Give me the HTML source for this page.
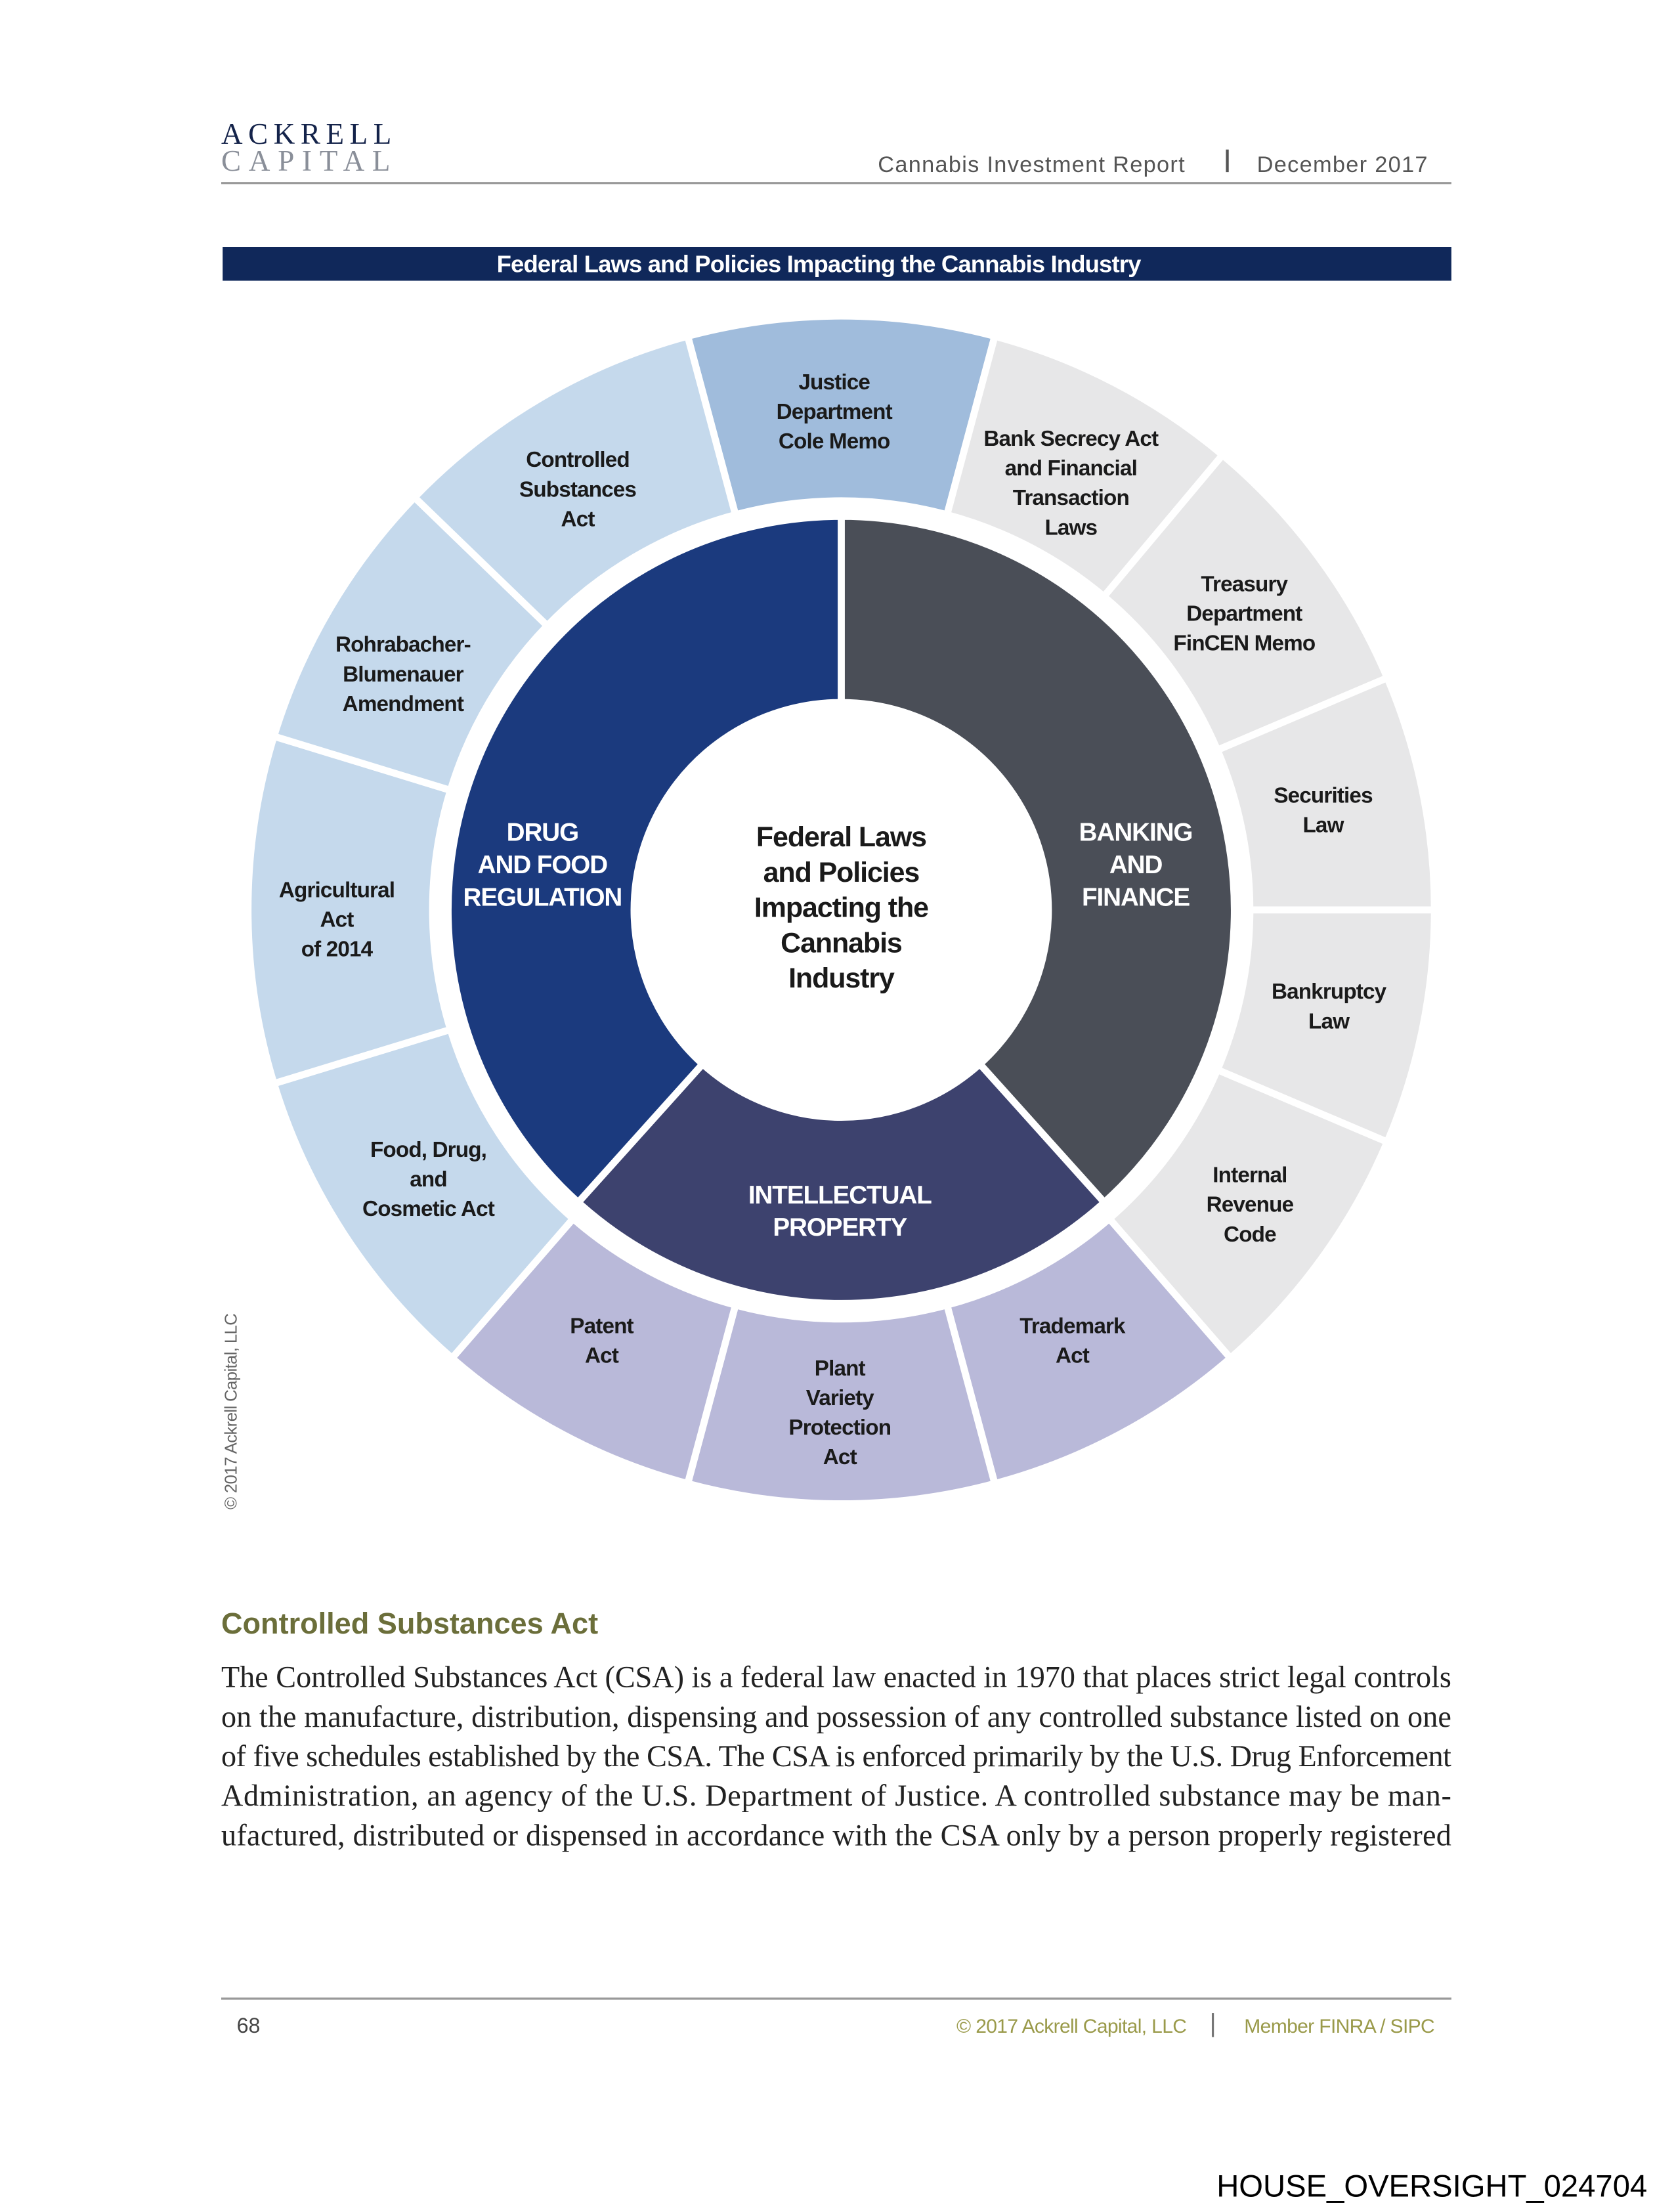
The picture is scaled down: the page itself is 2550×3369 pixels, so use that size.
<!DOCTYPE html>
<html><head><meta charset="utf-8">
<style>
html,body{margin:0;padding:0;background:#fff;}
svg{display:block;}
.lb{font-family:"Liberation Sans Narrow","Liberation Sans",sans-serif;font-weight:bold;font-size:15.5px;letter-spacing:-0.4px;fill:#1a1a1a;text-anchor:middle;}
.wl{font-family:"Liberation Sans Narrow","Liberation Sans",sans-serif;font-weight:bold;font-size:18px;letter-spacing:-0.5px;fill:#fff;text-anchor:middle;}
.body{font-family:"Liberation Serif",serif;font-size:21.5px;fill:#222;}
</style></head>
<body>
<svg id="s" width="2550" height="3369" viewBox="0 0 1188 1568" preserveAspectRatio="none" xmlns="http://www.w3.org/2000/svg">
<rect width="1188" height="1568" fill="#fff"/>
<text x="157" y="102" font-family="Liberation Serif,serif" font-size="21" fill="#14234a" letter-spacing="4">ACKRELL</text>
<text x="157" y="121" font-family="Liberation Serif,serif" font-size="21" fill="#8a8f99" letter-spacing="5.5">CAPITAL</text>
<text x="623" y="122" font-family="Liberation Sans,sans-serif" font-size="16" fill="#555" letter-spacing="0.6">Cannabis Investment Report</text>
<rect x="870" y="106" width="2" height="16" fill="#555"/>
<text x="892" y="122" font-family="Liberation Sans,sans-serif" font-size="16" fill="#555" letter-spacing="0.6">December 2017</text>
<rect x="157" y="129" width="873" height="1.5" fill="#999"/>
<rect x="158" y="175" width="872" height="24" fill="#10285a"/>
<text x="581" y="193" text-anchor="middle" font-family="Liberation Sans Narrow,Liberation Sans,sans-serif" font-weight="bold" font-size="17" letter-spacing="-0.4" fill="#fff">Federal Laws and Policies Impacting the Cannabis Industry</text>
<g id="wheel"></g>
<circle cx="597" cy="645" r="147" fill="#fff"/>
<text class="lb" style="font-size:20px;letter-spacing:-0.5px"><tspan x="597" y="600">Federal Laws</tspan><tspan x="597" y="625">and Policies</tspan><tspan x="597" y="650">Impacting the</tspan><tspan x="597" y="675">Cannabis</tspan><tspan x="597" y="700">Industry</tspan></text>
<text class="wl"><tspan x="385" y="596">DRUG</tspan><tspan x="385" y="619">AND FOOD</tspan><tspan x="385" y="642">REGULATION</tspan></text>
<text class="wl"><tspan x="806" y="596">BANKING</tspan><tspan x="806" y="619">AND</tspan><tspan x="806" y="642">FINANCE</tspan></text>
<text class="wl"><tspan x="596" y="853">INTELLECTUAL</tspan><tspan x="596" y="876">PROPERTY</tspan></text>
<text class="lb"><tspan x="592" y="276">Justice</tspan><tspan x="592" y="297">Department</tspan><tspan x="592" y="318">Cole Memo</tspan></text>
<text class="lb"><tspan x="760" y="316">Bank Secrecy Act</tspan><tspan x="760" y="337">and Financial</tspan><tspan x="760" y="358">Transaction</tspan><tspan x="760" y="379">Laws</tspan></text>
<text class="lb"><tspan x="883" y="419">Treasury</tspan><tspan x="883" y="440">Department</tspan><tspan x="883" y="461">FinCEN Memo</tspan></text>
<text class="lb"><tspan x="939" y="569">Securities</tspan><tspan x="939" y="590">Law</tspan></text>
<text class="lb"><tspan x="943" y="708">Bankruptcy</tspan><tspan x="943" y="729">Law</tspan></text>
<text class="lb"><tspan x="887" y="838">Internal</tspan><tspan x="887" y="859">Revenue</tspan><tspan x="887" y="880">Code</tspan></text>
<text class="lb"><tspan x="761" y="945">Trademark</tspan><tspan x="761" y="966">Act</tspan></text>
<text class="lb"><tspan x="596" y="975">Plant</tspan><tspan x="596" y="996">Variety</tspan><tspan x="596" y="1017">Protection</tspan><tspan x="596" y="1038">Act</tspan></text>
<text class="lb"><tspan x="427" y="945">Patent</tspan><tspan x="427" y="966">Act</tspan></text>
<text class="lb"><tspan x="304" y="820">Food, Drug,</tspan><tspan x="304" y="841">and</tspan><tspan x="304" y="862">Cosmetic Act</tspan></text>
<text class="lb"><tspan x="239" y="636">Agricultural</tspan><tspan x="239" y="657">Act</tspan><tspan x="239" y="678">of 2014</tspan></text>
<text class="lb"><tspan x="286" y="462">Rohrabacher-</tspan><tspan x="286" y="483">Blumenauer</tspan><tspan x="286" y="504">Amendment</tspan></text>
<text class="lb"><tspan x="410" y="331">Controlled</tspan><tspan x="410" y="352">Substances</tspan><tspan x="410" y="373">Act</tspan></text>
<text transform="translate(168,1070) rotate(-90)" font-family="Liberation Sans Narrow,Liberation Sans,sans-serif" font-size="12" fill="#666" letter-spacing="-0.3">© 2017 Ackrell Capital, LLC</text>
<text x="157" y="1158" font-family="Liberation Sans,sans-serif" font-weight="bold" font-size="21" fill="#6b6e3a">Controlled Substances Act</text>
<text class="body" x="157" y="1196" textLength="873" lengthAdjust="spacing">The Controlled Substances Act (CSA) is a federal law enacted in 1970 that places strict legal controls</text>
<text class="body" x="157" y="1224" textLength="873" lengthAdjust="spacing">on the manufacture, distribution, dispensing and possession of any controlled substance listed on one</text>
<text class="body" x="157" y="1252" textLength="873" lengthAdjust="spacing">of five schedules established by the CSA. The CSA is enforced primarily by the U.S. Drug Enforcement</text>
<text class="body" x="157" y="1280" textLength="873" lengthAdjust="spacing">Administration, an agency of the U.S. Department of Justice. A controlled substance may be man-</text>
<text class="body" x="157" y="1308" textLength="873" lengthAdjust="spacing">ufactured, distributed or dispensed in accordance with the CSA only by a person properly registered</text>
<rect x="157" y="1416" width="873" height="1.5" fill="#999"/>
<text x="168" y="1441" font-family="Liberation Sans,sans-serif" font-size="15" fill="#444">68</text>
<text x="842" y="1441" text-anchor="end" font-family="Liberation Sans,sans-serif" font-size="14" letter-spacing="-0.3" fill="#9a9a4a">© 2017 Ackrell Capital, LLC</text>
<rect x="860" y="1427" width="1.5" height="17" fill="#777"/>
<text x="1018" y="1441" text-anchor="end" font-family="Liberation Sans,sans-serif" font-size="14" letter-spacing="-0.3" fill="#9a9a4a">Member FINRA / SIPC</text>
<text x="1169" y="1557" text-anchor="end" font-family="Liberation Sans,sans-serif" font-size="22" fill="#000">HOUSE_OVERSIGHT_024704</text>
</svg>
<script>
(function(){
var cx=597,cy=645,g=document.getElementById('wheel'),ns='http://www.w3.org/2000/svg';
function pt(r,a){var t=a*Math.PI/180;return [cx+r*Math.sin(t),cy-r*Math.cos(t)];}
function sec(r1,r2,a1,a2,col){
 var p1=pt(r2,a1),p2=pt(r2,a2),p3=pt(r1,a2),p4=pt(r1,a1),l=(a2-a1)>180?1:0;
 var d='M'+p1+' A'+r2+','+r2+' 0 '+l+' 1 '+p2+' L'+p3+' A'+r1+','+r1+' 0 '+l+' 0 '+p4+'Z';
 var e=document.createElementNS(ns,'path');e.setAttribute('d',d);e.setAttribute('fill',col);
 e.setAttribute('stroke','#fff');e.setAttribute('stroke-width','5');g.appendChild(e);}
var LB='#c5d9ec',GR='#e7e7e8',PU='#b9b9d9';
var outer=[[-15,15,'#a0bcdc'],[15,40,GR],[40,67,GR],[67,90,GR],[90,113,GR],[113,139,GR],
[139,165,PU],[165,195,PU],[195,221,PU],[221,253,LB],[253,287,LB],[287,314,LB],[314,345,LB]];
outer.forEach(function(o){sec(290,421,o[0],o[1],o[2]);});
sec(147,279,0,138,'#4a4e57');
sec(147,279,138,222,'#3d426e');
sec(147,279,222,360,'#1b3a7e');
})();
</script>
</body></html>
